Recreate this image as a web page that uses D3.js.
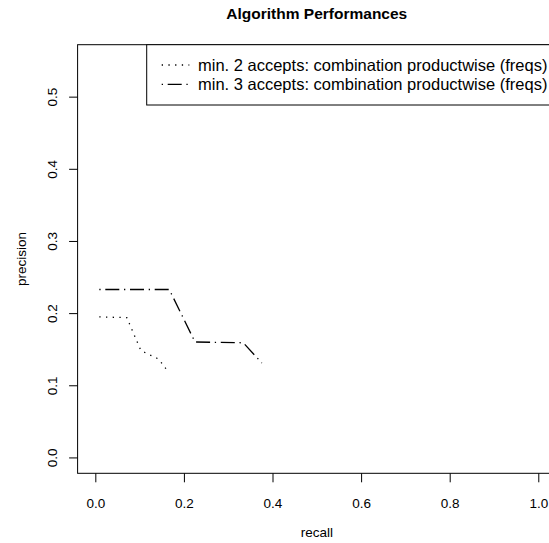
<!DOCTYPE html>
<html>
<head>
<meta charset="utf-8">
<script src="https://cdn.jsdelivr.net/npm/d3@7"></script>
<style>
  body { margin: 0; background: #fff; }
  svg text { font-family: "Liberation Sans", Arial, sans-serif; fill: #000; }
</style>
</head>
<body>
<div id="chart"></div>
<script>
// values
const recall2 = [0.009, 0.071, 0.103, 0.143, 0.161];
const precision2 = [0.1947, 0.1938, 0.148, 0.1363, 0.1216];
const recall3 = [0.009, 0.167, 0.225, 0.334, 0.376];
const precision3 = [0.2327, 0.2327, 0.160, 0.1589, 0.1309];
const xTicks = [0, 0.2, 0.4, 0.6, 0.8, 1.0];
const yTicks = [0, 0.1, 0.2, 0.3, 0.4, 0.5];
const seriesNames = ["min. 2 accepts: combination productwise (freqs)", "min. 3 accepts: combination productwise (freqs)"];

const width = 549, height = 543;
const dotted = "1.3,5.4";
const dotdash = "1.3,4.7,14,4.7";

const svg = d3.select("#chart").append("svg")
    .attr("width", width)
    .attr("height", height);

// R style: limits stretched 4% past the data range
const x = d3.scaleLinear().domain([-0.04, 1.04]).range([77.6, 556]);
const y = d3.scaleLinear().domain([-0.022, 0.572]).range([473.3, 44.7]);

svg.append("text")
    .attr("x", (x.range()[0] + x.range()[1]) / 2)
    .attr("y", 19)
    .attr("text-anchor", "middle")
    .style("font-size", "15.5px")
    .style("font-weight", "bold")
    .text("Algorithm Performances");

const xAxis = svg.append("g")
    .attr("transform", `translate(0,${y(-0.022)})`)
    .call(d3.axisBottom(x).tickValues(xTicks).tickFormat(d3.format(".1f")).tickSize(9).tickPadding(16));
xAxis.select(".domain").remove();
xAxis.selectAll(".tick text").style("font-size", "13.5px").style("font-family", "Liberation Sans, Arial, sans-serif");

const yAxis = svg.append("g")
    .attr("transform", `translate(${x(-0.04)},0)`)
    .call(d3.axisLeft(y).tickValues(yTicks).tickFormat(d3.format(".1f")).tickSize(8.5));
yAxis.select(".domain").remove();
yAxis.selectAll(".tick text")
    .attr("x", null).attr("dy", null)
    .attr("text-anchor", "middle")
    .attr("transform", "translate(-25.5,0) rotate(-90)")
    .attr("dy", "0.35em")
    .style("font-size", "13.5px")
    .style("font-family", "Liberation Sans, Arial, sans-serif");

svg.append("rect")
    .attr("x", x(-0.04))
    .attr("y", y(0.572))
    .attr("width", x(1.04) - x(-0.04))
    .attr("height", y(-0.022) - y(0.572))
    .attr("fill", "none")
    .attr("stroke", "#000");

svg.append("text")
    .attr("x", (x.range()[0] + x.range()[1]) / 2)
    .attr("y", 537)
    .attr("text-anchor", "middle")
    .style("font-size", "13.5px")
    .text("recall");

svg.append("text")
    .attr("transform", `translate(21,${(y.range()[0] + y.range()[1]) / 2}) rotate(-90)`)
    .attr("text-anchor", "middle")
    .attr("dy", "0.35em")
    .style("font-size", "13.5px")
    .text("precision");

const line = d3.line().x(d => x(d[0])).y(d => y(d[1]));

svg.append("path")
    .datum(d3.zip(recall2, precision2))
    .attr("d", line)
    .attr("fill", "none")
    .attr("stroke", "#000")
    .attr("stroke-width", 1.3)
    .attr("stroke-dasharray", dotted);

svg.append("path")
    .datum(d3.zip(recall3, precision3))
    .attr("d", line)
    .attr("fill", "none")
    .attr("stroke", "#000")
    .attr("stroke-width", 1.3)
    .attr("stroke-dasharray", dotdash);

// legend, top right
const legend = svg.append("g");
legend.append("rect")
    .attr("x", 146.7)
    .attr("y", y(0.572))
    .attr("width", x(1.04) - 146.7)
    .attr("height", 105 - y(0.572))
    .attr("fill", "#fff")
    .attr("stroke", "#000");

[dotted, dotdash].forEach((dash, i) => {
    const ly = 65 + i * 19.3;
    legend.append("line")
        .attr("x1", 161.7).attr("x2", 189.3)
        .attr("y1", ly).attr("y2", ly)
        .attr("stroke", "#000")
        .attr("stroke-width", 1.3)
        .attr("stroke-dasharray", dash);
    legend.append("text")
        .attr("x", 198)
        .attr("y", ly)
        .attr("dy", "0.35em")
        .style("font-size", "16.5px")
        .text(seriesNames[i]);
});
</script>
</body>
</html>
